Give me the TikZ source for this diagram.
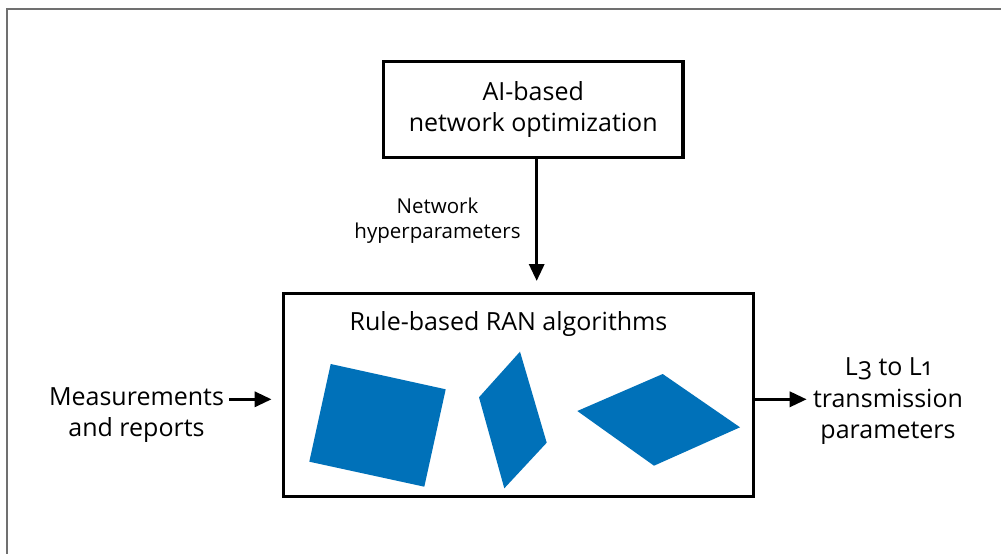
\documentclass[tikz,border=0pt]{standalone}
\usepackage{fontspec}
\setmainfont{Open Sans}
\usetikzlibrary{arrows.meta}
\definecolor{shapeblue}{RGB}{0,113,185}
\definecolor{framegray}{RGB}{112,112,112}
\newcommand{\oldnum}[1]{{\addfontfeature{Numbers=OldStyle}#1}}
\begin{document}
\begin{tikzpicture}[x=1pt,y=-1pt,
  box/.style={draw=black,line width=3.4pt,inner sep=0pt,align=center,
    font=\fontsize{25}{31.5}\selectfont},
  arr/.style={line width=3.3pt,-{Triangle[length=17pt,width=15pt]}},
  lbl/.style={align=center,inner sep=0pt,font=\fontsize{25}{31.5}\selectfont},
  smalllbl/.style={align=center,inner sep=0pt,font=\fontsize{20.5}{25}\selectfont},
  blob/.style={fill=shapeblue}]
\useasboundingbox (0,0) rectangle (1001,554);
\fill[white] (0,0) rectangle (1001,554);
% outer frame (left and top edges)
\draw[framegray,line width=1.8pt] (6.7,554) -- (6.7,9.3) -- (1001,9.3);

% boxes
\node[box,minimum width=299.5pt,minimum height=96pt] (opt) at (533.2,109.5)
  {AI-based\\network optimization};
\node[box,minimum width=470pt,minimum height=203.4pt] (ran) at (518.3,395) {};
\node[lbl,anchor=base] (title) at (508.5,330) {Rule-based RAN algorithms};

% shapes inside the algorithm box
\fill[blob] (330.7,364) -- (445.7,389.3) -- (424.3,486.7) -- (309.3,461.7) -- cycle;
\fill[blob] (520,351.7) -- (546.7,442.7) -- (504.3,488.3) -- (479,397.3) -- cycle;
\fill[blob] (662.7,374) -- (740,427.3) -- (654,465.7) -- (577.3,411) -- cycle;

% labels
\node[smalllbl] (hyper) at (437.5,220.5) {Network\\hyperparameters};
\node[lbl] (meas) at (136.5,415) {Measurements\\and reports};
\node[lbl] (tx) at (888,401.5) {\oldnum{L3} to \oldnum{L1}\\transmission\\parameters};

% connectors
\coordinate (inL) at (229,399.3);
\coordinate (outR) at (806.7,399.3);
\draw[arr,shorten >=10.6pt] ([xshift=3.5pt]opt.south) -- ([xshift=3.5pt]opt.south |- ran.north);
\draw[arr,shorten >=10pt] (inL) -- (inL -| ran.west);
\draw[arr] (outR -| ran.east) -- (outR);
\end{tikzpicture}
\end{document}
